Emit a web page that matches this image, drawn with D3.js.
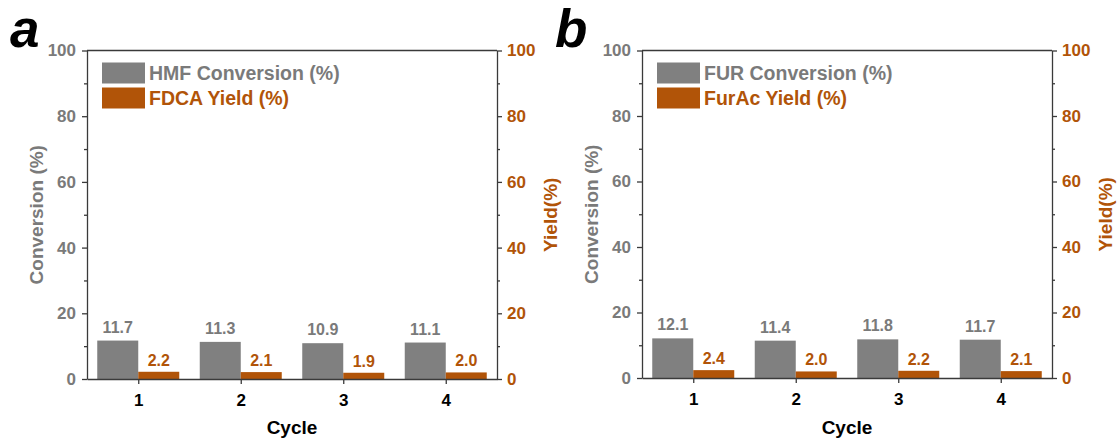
<!DOCTYPE html>
<html>
<head>
<meta charset="utf-8">
<script src="https://cdn.jsdelivr.net/npm/d3@7"></script>
<style>
  body { margin: 0; background: #fff; }
  svg { display: block; font-family: 'Liberation Sans', Arial, sans-serif; }
</style>
</head>
<body>
<svg id="chart" width="1118" height="438"></svg>
<script>
// data
var cycles = [1, 2, 3, 4];
var hmfConversion = [11.7, 11.3, 10.9, 11.1];
var fdcaYield = [2.2, 2.1, 1.9, 2.0];
var furConversion = [12.1, 11.4, 11.8, 11.7];
var furacYield = [2.4, 2.0, 2.2, 2.1];
var yTicks = [0, 20, 40, 60, 80, 100];
var yMinorTicks = [10, 30, 50, 70, 90];

var grey = '#808080';
var greyText = '#7a7a7a';
var orange = '#b15408';
var axisColor = '#3a3a3a';

var svg = d3.select('#chart');
var fmt = d3.format('.1f');

function drawPanel (opt) {
    var x = d3.scaleLinear().domain([0.5, 4.5]).range([opt.left, opt.right]);
    var y = d3.scaleLinear().domain([0, 100]).range([opt.bottom, opt.top]);
    var barW = 0.4;

    var g = svg.append('g');

    // bars
    g.selectAll('.conv').data(cycles).enter().append('rect')
        .attr('x', function (d) { return x(d - barW); })
        .attr('y', function (d, i) { return y(opt.conv[i]); })
        .attr('width', function (d) { return x(d) - x(d - barW); })
        .attr('height', function (d, i) { return y(0) - y(opt.conv[i]); })
        .attr('fill', grey);

    g.selectAll('.yld').data(cycles).enter().append('rect')
        .attr('x', function (d) { return x(d); })
        .attr('y', function (d, i) { return y(opt.yld[i]); })
        .attr('width', function (d) { return x(d + barW) - x(d); })
        .attr('height', function (d, i) { return y(0) - y(opt.yld[i]); })
        .attr('fill', orange);

    // value labels
    g.selectAll('.convLab').data(cycles).enter().append('text')
        .attr('x', function (d) { return x(d - barW / 2); })
        .attr('y', function (d, i) { return y(opt.conv[i]) - 8; })
        .attr('text-anchor', 'middle')
        .attr('font-size', 16)
        .attr('font-weight', 'bold')
        .attr('fill', greyText)
        .text(function (d, i) { return fmt(opt.conv[i]); });

    g.selectAll('.yldLab').data(cycles).enter().append('text')
        .attr('x', function (d) { return x(d + barW / 2); })
        .attr('y', function (d, i) { return y(opt.yld[i]) - 6; })
        .attr('text-anchor', 'middle')
        .attr('font-size', 16)
        .attr('font-weight', 'bold')
        .attr('fill', orange)
        .text(function (d, i) { return fmt(opt.yld[i]); });

    // left axis
    var left = g.append('g').attr('transform', 'translate(' + opt.left + ',0)')
        .call(d3.axisLeft(y).tickValues(yTicks).tickSize(5).tickPadding(6).tickSizeOuter(0));
    g.append('g').attr('transform', 'translate(' + opt.left + ',0)')
        .call(d3.axisLeft(y).tickValues(yMinorTicks).tickSize(3).tickFormat('').tickSizeOuter(0))
        .select('.domain').remove();
    left.selectAll('text').attr('fill', greyText);

    // right axis
    var right = g.append('g').attr('transform', 'translate(' + opt.right + ',0)')
        .call(d3.axisRight(y).tickValues(yTicks).tickSize(5).tickPadding(5).tickSizeOuter(0));
    g.append('g').attr('transform', 'translate(' + opt.right + ',0)')
        .call(d3.axisRight(y).tickValues(yMinorTicks).tickSize(3).tickFormat('').tickSizeOuter(0))
        .select('.domain').remove();
    right.selectAll('text').attr('fill', orange);

    // bottom axis
    var bottom = g.append('g').attr('transform', 'translate(0,' + opt.bottom + ')')
        .call(d3.axisBottom(x).tickValues(cycles).tickFormat(d3.format('d'))
            .tickSize(5).tickPadding(10).tickSizeOuter(0));
    bottom.selectAll('text').attr('fill', '#000');

    // top frame line
    g.append('line')
        .attr('x1', opt.left).attr('x2', opt.right)
        .attr('y1', opt.top).attr('y2', opt.top)
        .attr('stroke', axisColor).attr('stroke-width', 1.3);

    g.selectAll('.domain, .tick line').attr('stroke', axisColor).attr('stroke-width', 1.3);
    g.selectAll('.tick text').attr('font-size', 17).attr('font-weight', 'bold')
        .attr('font-family', "'Liberation Sans', Arial, sans-serif");

    // axis titles
    var midY = (opt.top + opt.bottom) / 2;
    g.append('text')
        .attr('transform', 'translate(' + (opt.left - 44) + ',' + midY + ')rotate(-90)')
        .attr('text-anchor', 'middle')
        .attr('font-size', 19).attr('font-weight', 'bold').attr('fill', greyText)
        .text('Conversion (%)');
    g.append('text')
        .attr('transform', 'translate(' + (opt.right + 60) + ',' + midY + ')rotate(-90)')
        .attr('text-anchor', 'middle')
        .attr('font-size', 19).attr('font-weight', 'bold').attr('fill', orange)
        .text('Yield(%)');
    g.append('text')
        .attr('x', (opt.left + opt.right) / 2).attr('y', 434)
        .attr('text-anchor', 'middle')
        .attr('font-size', 19).attr('font-weight', 'bold').attr('fill', '#000')
        .text('Cycle');

    // legend
    var lg = g.append('g').attr('transform', 'translate(' + (opt.left + 15) + ',' + (opt.top + 12) + ')');
    lg.append('rect').attr('x', 0).attr('y', 0).attr('width', 43).attr('height', 21).attr('fill', grey);
    lg.append('rect').attr('x', 0).attr('y', 25).attr('width', 43).attr('height', 21).attr('fill', orange);
    lg.append('text').attr('x', 47).attr('y', 17.5)
        .attr('font-size', 19.5).attr('font-weight', 'bold').attr('fill', greyText)
        .text(opt.convName);
    lg.append('text').attr('x', 47).attr('y', 42.5)
        .attr('font-size', 19.5).attr('font-weight', 'bold').attr('fill', orange)
        .text(opt.yldName);

    // panel letter
    g.append('text')
        .attr('x', opt.letterX).attr('y', 47)
        .attr('font-size', 53).attr('font-weight', 'bold').attr('font-style', 'italic')
        .attr('fill', '#000')
        .text(opt.letter);
}

drawPanel({
    left: 87, right: 497, top: 50.5, bottom: 379,
    conv: hmfConversion, yld: fdcaYield,
    convName: 'HMF Conversion (%)', yldName: 'FDCA Yield (%)',
    letter: 'a', letterX: 10
});

drawPanel({
    left: 642, right: 1052, top: 50.5, bottom: 378,
    conv: furConversion, yld: furacYield,
    convName: 'FUR Conversion (%)', yldName: 'FurAc Yield (%)',
    letter: 'b', letterX: 555
});
</script>
</body>
</html>
